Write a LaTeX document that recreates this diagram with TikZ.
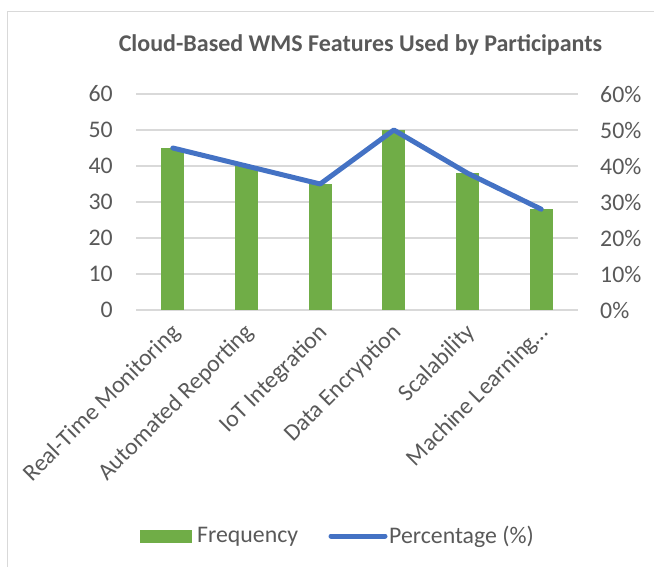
\documentclass[tikz,border=0pt]{standalone}
\usepackage{fontspec}
\setmainfont{Carlito}
\usetikzlibrary{positioning}

\definecolor{barGreen}{HTML}{70AD47}
\definecolor{lineBlue}{HTML}{4472C4}
\definecolor{gridGrey}{HTML}{D9D9D9}
\definecolor{txtGrey}{HTML}{595959}

\begin{document}
\begin{tikzpicture}[
  x=1pt, y=-1pt,
  lbl/.style={text=txtGrey, font=\fontsize{23.8}{28}\selectfont, inner sep=0pt},
  gridline/.style={gridGrey, line width=1.2pt},
  bar/.style={fill=barGreen, draw=none},
  pct/.style={lineBlue, line width=5pt, line cap=round, line join=round}
]
  \useasboundingbox (0,0) rectangle (654,567);
  % chart frame (only top and left edge fall on the page)
  \draw[gridGrey, line width=1pt] (7,567) -- (7,12) -- (654,12);

  \node[lbl, font=\fontsize{24}{28}\selectfont\bfseries] (title) at (360.5,45)
    {Cloud-Based WMS Features Used by Participants};

  % gridlines, left and right axis labels
  \foreach \k in {0,...,6} {
    \draw[gridline] (136,310-36*\k) -- (578,310-36*\k);
    \node[lbl, anchor=east] (yl\k) at (113,310-36*\k) {\the\numexpr\k*10\relax};
    \node[lbl, anchor=west] (yr\k) at (600,310-36*\k) {\the\numexpr\k*10\relax\%};
  }

  % bars (frequency) and points of the percentage line
  \foreach \v [count=\i] in {45,40,35,50,38,28} {
    \pgfmathsetmacro\cx{136+73.67*(\i-0.5)}
    \fill[bar] (\cx-11.5,310) rectangle (\cx+11.5,310-3.6*\v);
    \coordinate (p\i) at (\cx,310-3.6*\v);
  }
  \draw[pct] (p1) -- (p2) -- (p3) -- (p4) -- (p5) -- (p6);

  % category labels
  \foreach \name [count=\i] in {Real-Time Monitoring, Automated Reporting, IoT Integration,
      Data Encryption, Scalability, {Machine Learning\ldots}} {
    \pgfmathsetmacro\cx{136+73.67*(\i-0.5)}
    \node[lbl, rotate=45, anchor=east] (cat\i) at (\cx+4,329) {\name};
  }

  % legend
  \fill[barGreen] (140,530) rectangle (192,543);
  \node[lbl, anchor=west] (lgF) at (197,537) {Frequency};
  \coordinate (lgA) at (331,536);
  \coordinate (lgB) at (385,536);
  \draw[pct] (lgA) -- (lgB);
  \node[lbl, anchor=west] (lgP) at (389,537) {Percentage (\%)};
\end{tikzpicture}
\end{document}
